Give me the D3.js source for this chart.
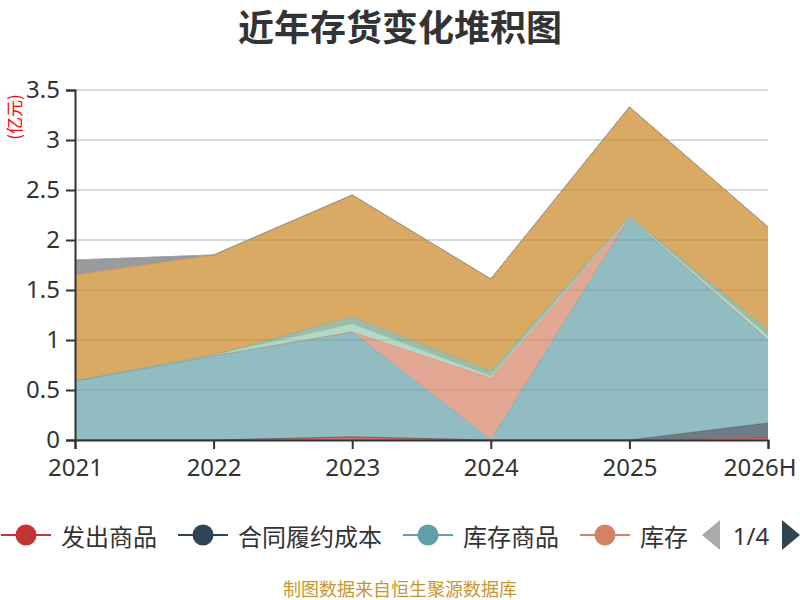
<!DOCTYPE html>
<html>
<head>
<meta charset="utf-8">
<script src="https://cdn.jsdelivr.net/npm/d3@7/dist/d3.min.js"></script>
<style>
  body { margin: 0; background: #fff; }
  text { font-family: "Noto Sans", "Noto Sans CJK SC", sans-serif; }
</style>
</head>
<body>
<svg id="chart" width="800" height="600"></svg>
<script>
// categories and series (亿元)
const years = ['2021', '2022', '2023', '2024', '2025', '2026H'];
const shippedGoods = [0, 0, 0.03, 0, 0, 0.02];          // 发出商品
const contractCosts = [0, 0, 0, 0, 0, 0.15];            // 合同履约成本
const finishedGoods = [0.59, 0.84, 1.05, 0, 2.22, 0.83]; // 库存商品
const stock = [0, 0, 0, 0.62, 0, 0];                    // 库存
const rawMaterials = [0, 0.01, 0.08, 0.02, 0.01, 0.04]; // 原材料
const turnoverMaterials = [0, 0, 0.07, 0.05, 0.01, 0.06]; // 周转材料
const workInProgress = [1.06, 1.00, 1.22, 0.92, 1.09, 1.03]; // 在产品
const consignedMaterials = [0, 0, 0, 0, 0, 0];          // 委托加工物资
const lowValueItems = [0.15, 0, 0, 0, 0, 0];            // 低值易耗品
const semiFinished = [0, 0, 0, 0, 0, 0];                // 自制半成品
const bioAssets = [0, 0, 0, 0, 0, 0];                   // 消耗性生物资产
const devCosts = [null, null, null, null, null, null];  // 开发成本
const devProducts = [null, null, null, null, null, null]; // 开发产品

const seriesNames = ['发出商品', '合同履约成本', '库存商品', '库存', '原材料', '周转材料',
  '在产品', '委托加工物资', '低值易耗品', '自制半成品', '消耗性生物资产', '开发成本', '开发产品'];
const seriesValues = [shippedGoods, contractCosts, finishedGoods, stock, rawMaterials,
  turnoverMaterials, workInProgress, consignedMaterials, lowValueItems, semiFinished,
  bioAssets, devCosts, devProducts];
const yTicks = [0, 0.5, 1, 1.5, 2, 2.5, 3, 3.5];

const palette = ['#c23531', '#2f4554', '#61a0a8', '#d48265', '#91c7ae', '#749f83',
  '#ca8622', '#bda29a', '#6e7074', '#546570', '#c4ccd3'];
const color = i => palette[i % palette.length];

const svg = d3.select('#chart');
const margin = { left: 75, right: 32, top: 90, bottom: 160 };
const W = 800, H = 600;

const x = d3.scalePoint().domain(years).range([margin.left, W - margin.right]);
const y = d3.scaleLinear().domain([0, 3.5]).range([H - margin.bottom, margin.top]);

// rows for d3.stack
const rows = years.map((yr, j) => {
  const r = { year: yr };
  seriesNames.forEach((n, i) => { r[n] = seriesValues[i][j] || 0; });
  return r;
});
const stacked = d3.stack().keys(seriesNames)(rows);

// title
svg.append('text')
  .attr('x', W / 2).attr('y', 25)
  .attr('text-anchor', 'middle').attr('dominant-baseline', 'central')
  .style('font-family', '"Noto Sans CJK SC", sans-serif')
  .style('font-size', '36px').style('font-weight', 'bold').attr('fill', '#333')
  .text('近年存货变化堆积图');

// grid
svg.append('g').selectAll('line')
  .data(yTicks.filter(d => d > 0))
  .join('line')
  .attr('x1', margin.left).attr('x2', W - margin.right)
  .attr('y1', d => y(d)).attr('y2', d => y(d))
  .attr('stroke', '#ccc').attr('stroke-width', 1.5);

// areas
const area = d3.area()
  .x((d, j) => x(years[j]))
  .y0(d => y(d[0]))
  .y1(d => y(d[1]));
const line = d3.line()
  .x((d, j) => x(years[j]))
  .y(d => y(d[1]));

const drawn = stacked.filter((s, i) => seriesValues[i].some(v => v !== null));
svg.append('g').selectAll('path')
  .data(drawn)
  .join('path')
  .attr('d', area)
  .attr('fill', s => color(s.index))
  .attr('fill-opacity', 0.7);
svg.append('g').selectAll('path')
  .data(drawn)
  .join('path')
  .attr('d', line)
  .attr('fill', 'none')
  .attr('stroke', s => color(s.index))
  .attr('stroke-width', 0.8)
  .attr('stroke-opacity', 0.6);

// axes
const xAxis = svg.append('g')
  .attr('transform', `translate(0,${y(0)})`)
  .call(d3.axisBottom(x).tickSizeOuter(0).tickSize(9).tickPadding(8));
const yAxis = svg.append('g')
  .attr('transform', `translate(${margin.left},0)`)
  .call(d3.axisLeft(y).tickValues(yTicks).tickFormat(d => String(d))
    .tickSizeOuter(0).tickSize(9).tickPadding(6));
[xAxis, yAxis].forEach(g => {
  g.select('.domain').attr('stroke', '#333').attr('stroke-width', 2);
  g.selectAll('.tick line').attr('stroke', '#333').attr('stroke-width', 2);
  g.selectAll('.tick text').attr('fill', '#333').style('font-size', '24px');
});
xAxis.selectAll('.tick text').attr('dy', '0.8em');
// keep the last category label inside the picture
xAxis.selectAll('.tick text').filter(d => d === years[years.length - 1])
  .attr('text-anchor', 'end').attr('x', 28);

// axis name
svg.append('text')
  .attr('transform', 'translate(13,117) rotate(-90)')
  .attr('text-anchor', 'middle').attr('dominant-baseline', 'central')
  .style('font-family', '"Noto Sans CJK SC", sans-serif')
  .style('font-size', '17px').attr('fill', '#ff0000')
  .text('(亿元)');

// legend (page 1 of scrollable legend)
const perPage = 4;
const pages = Math.ceil(seriesNames.length / perPage);
const legend = svg.append('g');
const ly = 535;
let lx = 1;
seriesNames.slice(0, perPage).forEach((name, i) => {
  const g = legend.append('g').attr('transform', `translate(${lx},0)`);
  g.append('line').attr('x1', 0).attr('x2', 50).attr('y1', ly).attr('y2', ly)
    .attr('stroke', color(i)).attr('stroke-width', 2);
  g.append('circle').attr('cx', 25).attr('cy', ly).attr('r', 10.5).attr('fill', color(i));
  const t = g.append('text').attr('x', 60).attr('y', ly)
    .attr('dominant-baseline', 'central')
    .style('font-family', '"Noto Sans CJK SC", sans-serif')
    .style('font-size', '24px').attr('fill', '#333').text(name);
  lx += 60 + t.node().getComputedTextLength() + 21;
});
// pager
legend.append('path').attr('d', 'M720,520 L702,535 L720,550 Z').attr('fill', '#aaa');
legend.append('text').attr('x', 751).attr('y', ly)
  .attr('text-anchor', 'middle').attr('dominant-baseline', 'central')
  .style('font-size', '24px').attr('fill', '#333').text(`1/${pages}`);
legend.append('path').attr('d', 'M782,520 L800,535 L782,550 Z').attr('fill', '#2f4554');

// footer
svg.append('text')
  .attr('x', W / 2).attr('y', 588)
  .attr('text-anchor', 'middle').attr('dominant-baseline', 'central')
  .style('font-family', '"Noto Sans CJK SC", sans-serif')
  .style('font-size', '18px').attr('fill', '#c8962e')
  .text('制图数据来自恒生聚源数据库');
</script>
</body>
</html>
